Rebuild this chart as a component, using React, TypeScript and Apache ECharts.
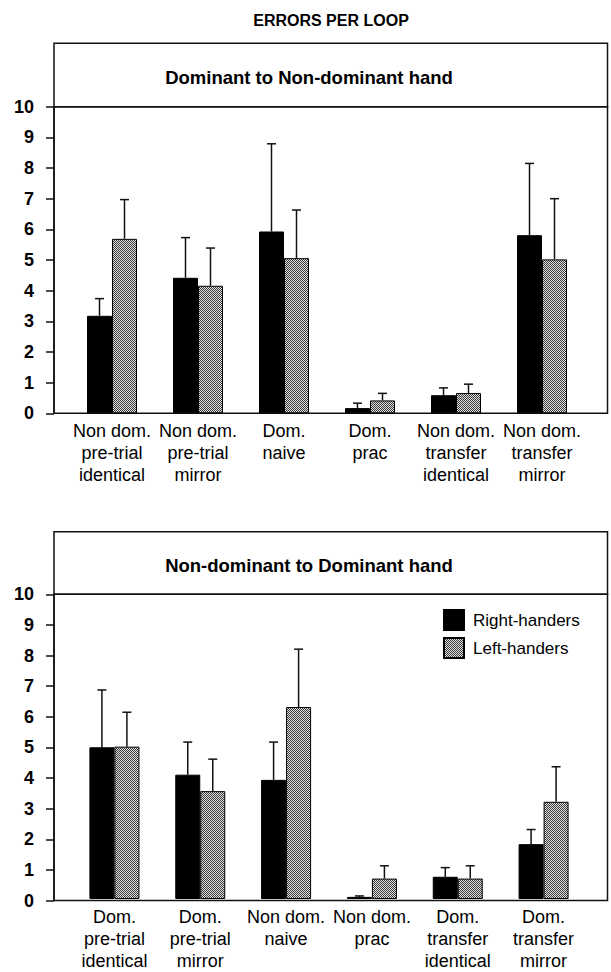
import React, { useEffect, useRef } from 'react';
import * as echarts from 'echarts';

const topCategories = [
  'Non dom.\npre-trial\nidentical',
  'Non dom.\npre-trial\nmirror',
  'Dom.\nnaive',
  'Dom.\nprac',
  'Non dom.\ntransfer\nidentical',
  'Non dom.\ntransfer\nmirror',
];
const bottomCategories = [
  'Dom.\npre-trial\nidentical',
  'Dom.\npre-trial\nmirror',
  'Non dom.\nnaive',
  'Non dom.\nprac',
  'Dom.\ntransfer\nidentical',
  'Dom.\ntransfer\nmirror',
];

const seriesNames = ['Right-handers', 'Left-handers'];

// Dominant to Non-dominant hand
const topRight = [3.18, 4.42, 5.93, 0.17, 0.59, 5.81];
const topRightSD = [0.56, 1.31, 2.86, 0.16, 0.24, 2.34];
const topLeft = [5.69, 4.16, 5.06, 0.42, 0.66, 5.02];
const topLeftSD = [1.28, 1.23, 1.57, 0.23, 0.29, 1.98];

// Non-dominant to Dominant hand
const bottomRight = [4.98, 4.08, 3.91, 0.07, 0.73, 1.8];
const bottomRightSD = [1.88, 1.07, 1.24, 0.03, 0.3, 0.48];
const bottomLeft = [5.0, 3.54, 6.3, 0.67, 0.67, 3.19];
const bottomLeftSD = [1.13, 1.05, 1.9, 0.42, 0.42, 1.15];

const yTicks = [0, 10, 1]; // min, max, interval

const mainTitle = 'ERRORS PER LOOP';
const panelTitles = ['Dominant to Non-dominant hand', 'Non-dominant to Dominant hand'];

const FONT = "'Liberation Sans', Arial, Helvetica, sans-serif";
const BAR_W = 25;

function makePattern() {
  const c = document.createElement('canvas');
  c.width = 2;
  c.height = 2;
  const ctx = c.getContext('2d')!;
  ctx.fillStyle = '#e0e0e0';
  ctx.fillRect(0, 0, 2, 2);
  ctx.fillStyle = '#3a3a3a';
  ctx.fillRect(0, 0, 1, 1);
  ctx.fillRect(1, 1, 1, 1);
  return { image: c, repeat: 'repeat' } as any;
}

function errorSeries(means: number[], sds: number[], axisIdx: number, offset: number) {
  return {
    type: 'custom',
    xAxisIndex: axisIdx,
    yAxisIndex: axisIdx,
    silent: true,
    z: 5,
    data: means.map((m, i) => [i, m, m + sds[i]]),
    encode: { x: 0, y: [1, 2] },
    renderItem: (params: any, api: any) => {
      const i = api.value(0);
      const base = api.coord([i, api.value(1)]);
      const top = api.coord([i, api.value(2)]);
      const x = base[0] + offset;
      const st = { stroke: '#111', lineWidth: 1.5 };
      return {
        type: 'group',
        children: [
          { type: 'line', shape: { x1: x, y1: base[1], x2: x, y2: top[1] }, style: st },
          { type: 'line', shape: { x1: x - 4.5, y1: top[1], x2: x + 4.5, y2: top[1] }, style: st },
        ],
      };
    },
  };
}

export default function App() {
  const ref = useRef<HTMLDivElement>(null);
  useEffect(() => {
    if (!ref.current) return;
    const chart = echarts.init(ref.current, undefined, { renderer: 'svg' });
    const pattern = makePattern();

    const panels = [
      { boxTop: 43.3, plotTop: 106.7, plotH: 306.6, barLeft: 69, barW: 516, cats: topCategories, r: topRight, rsd: topRightSD, l: topLeft, lsd: topLeftSD },
      { boxTop: 531.7, plotTop: 594.3, plotH: 306.2, barLeft: 71.5, barW: 515, cats: bottomCategories, r: bottomRight, rsd: bottomRightSD, l: bottomLeft, lsd: bottomLeftSD },
    ];
    const plotLeft = 54;
    const plotW = 553.5;

    const grid: any[] = [];
    const xAxis: any[] = [];
    const yAxis: any[] = [];
    const series: any[] = [];
    const graphic: any[] = [
      {
        type: 'text',
        x: 331,
        y: 20,
        style: { text: mainTitle, font: `bold 16px ${FONT}`, fill: '#000', textAlign: 'center', textVerticalAlign: 'middle' },
      },
    ];

    panels.forEach((p, k) => {
      const gA = k * 2;
      const gB = k * 2 + 1;
      grid.push({ left: plotLeft, top: p.plotTop, width: plotW, height: p.plotH, show: true, borderColor: '#111', borderWidth: 1.5, backgroundColor: 'transparent' });
      grid.push({ left: p.barLeft, top: p.plotTop, width: p.barW, height: p.plotH });
      xAxis.push({ gridIndex: gA, type: 'category', data: p.cats, show: false });
      xAxis.push({
        gridIndex: gB,
        type: 'category',
        data: p.cats,
        axisLine: { show: false },
        axisTick: { show: false },
        axisLabel: { interval: 0, fontSize: 18, lineHeight: 22, margin: 7, color: '#000', fontFamily: FONT },
      });
      yAxis.push({
        gridIndex: gA,
        type: 'value',
        min: yTicks[0],
        max: yTicks[1],
        interval: yTicks[2],
        axisLine: { show: true, lineStyle: { color: '#111', width: 1.5 } },
        axisTick: { show: true, length: 8, lineStyle: { color: '#111', width: 1.5 } },
        axisLabel: { fontSize: 18, fontWeight: 'bold', color: '#000', margin: 20, fontFamily: FONT },
        splitLine: { show: false },
      });
      yAxis.push({ gridIndex: gB, type: 'value', min: yTicks[0], max: yTicks[1], interval: yTicks[2], show: false, splitLine: { show: false } });

      series.push({
        type: 'bar',
        name: seriesNames[0],
        xAxisIndex: gB,
        yAxisIndex: gB,
        barWidth: BAR_W,
        barGap: '0%',
        data: p.r,
        itemStyle: { color: '#000', borderColor: '#000', borderWidth: 1 },
      });
      series.push({
        type: 'bar',
        name: seriesNames[1],
        xAxisIndex: gB,
        yAxisIndex: gB,
        barWidth: BAR_W,
        barGap: '0%',
        data: p.l,
        itemStyle: { color: pattern, borderColor: '#000', borderWidth: 1 },
      });
      series.push(errorSeries(p.r, p.rsd, gB, -BAR_W / 2));
      series.push(errorSeries(p.l, p.lsd, gB, BAR_W / 2));

      graphic.push({
        type: 'rect',
        shape: { x: plotLeft, y: p.boxTop, width: plotW, height: p.plotTop - p.boxTop },
        style: { fill: 'none', stroke: '#111', lineWidth: 1.5 },
      });
      graphic.push({
        type: 'text',
        x: 309,
        y: (p.boxTop + p.plotTop) / 2 + 2,
        style: { text: panelTitles[k], font: `bold 18.5px ${FONT}`, fill: '#000', textAlign: 'center', textVerticalAlign: 'middle' },
      });
    });

    chart.setOption({
      animation: false,
      backgroundColor: '#fff',
      grid,
      xAxis,
      yAxis,
      series,
      graphic,
      legend: {
        data: seriesNames,
        orient: 'vertical',
        left: 443,
        top: 609,
        padding: 0,
        itemWidth: 20,
        itemHeight: 20,
        itemGap: 6,
        icon: 'rect',
        selectedMode: false,
        textStyle: { fontSize: 17, color: '#000', fontFamily: FONT, padding: [0, 0, 0, 4] },
      },
    });
    return () => chart.dispose();
  }, []);
  return <div ref={ref} style={{ position: 'absolute', left: 0, top: 0, width: 611, height: 972 }} />;
}
